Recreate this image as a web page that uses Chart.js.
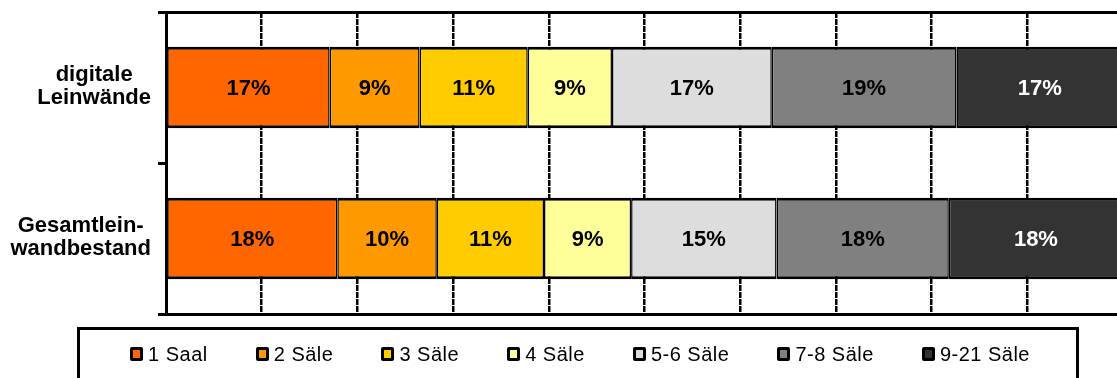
<!DOCTYPE html>
<html>
<head>
<meta charset="utf-8">
<script src="https://cdn.jsdelivr.net/npm/chart.js@4.4.0/dist/chart.umd.min.js"></script>
<style>
  html, body { margin: 0; padding: 0; background: #fff; overflow: hidden; }
  #wrap { position: relative; width: 1117px; height: 378px; overflow: hidden; }
  #chart { position: absolute; left: 0; top: 0; }
  #legend {
    position: absolute; left: 77px; top: 327px; width: 1002px; height: 80px;
    border: 3px solid #000; box-sizing: border-box;
    display: flex; align-items: flex-start; padding: 12px 0 0 50px;
    font: 20px "Liberation Sans", Arial, sans-serif; color: #000; letter-spacing: 0.5px;
  }
  .item { display: flex; align-items: center; height: 24px; line-height: 24px; margin-right: 48px; white-space: nowrap; }
  .box { width: 13px; height: 14px; border: 3px solid #000; box-sizing: border-box; border-radius: 2px; margin-right: 5px; }
</style>
</head>
<body>
<div id="wrap">
  <canvas id="chart" width="1130" height="330"></canvas>
  <div id="legend"></div>
</div>
<script>
// data (share of screens, %)
const categories = [["digitale", "Leinwände"], ["Gesamtlein-", "wandbestand"]];
const seriesNames = ["1 Saal", "2 Säle", "3 Säle", "4 Säle", "5-6 Säle", "7-8 Säle", "9-21 Säle"];
const seriesColors = ["#FF6600", "#FF9900", "#FFCC00", "#FFFF99", "#DDDDDD", "#808080", "#333333"];
const digitale = [17.1, 9.4, 11.3, 8.8, 16.7, 19.3, 17.4];
const gesamt = [17.9, 10.4, 11.2, 9.1, 15.2, 18.0, 18.2];

const FONT = '"Liberation Sans", Arial, sans-serif';

// percentage labels inside the bars
const barLabels = {
  id: "barLabels",
  afterDatasetsDraw(chart) {
    const ctx = chart.ctx;
    const last = chart.data.datasets.length - 1;
    ctx.save();
    ctx.font = "bold 22px " + FONT;
    ctx.textAlign = "center";
    ctx.textBaseline = "middle";
    chart.data.datasets.forEach((ds, i) => {
      chart.getDatasetMeta(i).data.forEach((bar, j) => {
        const p = bar.getCenterPoint();
        ctx.fillStyle = i === last ? "#fff" : "#000";
        ctx.fillText(Math.round(ds.data[j]) + "%", p.x, p.y + 1);
      });
    });
    ctx.restore();
  }
};

// category labels: each block right aligned, lines centred inside it
const catLabels = {
  id: "catLabels",
  afterDraw(chart) {
    const ctx = chart.ctx;
    const y = chart.scales.y;
    ctx.save();
    ctx.font = "bold 22px " + FONT;
    ctx.fillStyle = "#000";
    ctx.textAlign = "center";
    ctx.textBaseline = "alphabetic";
    categories.forEach((lines, i) => {
      const cy = y.getPixelForValue(i);
      const w = Math.max(...lines.map(l => ctx.measureText(l).width));
      const cx = y.right - 15 - w / 2;
      lines.forEach((l, k) => {
        ctx.fillText(l, cx, cy + 5 + (k - (lines.length - 1) / 2) * 23.3);
      });
    });
    ctx.restore();
  }
};

const datasets = seriesNames.map((name, i) => ({
  label: name,
  data: [digitale[i], gesamt[i]],
  backgroundColor: seriesColors[i],
  borderColor: "#000",
  borderWidth: { top: 3, bottom: 3, left: 1.5, right: 1.5 },
  borderSkipped: false,
  barPercentage: 0.54,
  categoryPercentage: 1
}));

new Chart(document.getElementById("chart"), {
  type: "bar",
  data: { labels: categories, datasets },
  options: {
    responsive: false,
    animation: false,
    indexAxis: "y",
    layout: { padding: { top: 12, right: 7, bottom: 16, left: 0 } },
    plugins: { legend: { display: false }, tooltip: { enabled: false } },
    scales: {
      x: {
        stacked: true, min: 0, max: 100,
        ticks: { display: false, stepSize: 10 },
        grid: { color: "#000", lineWidth: 2.5, drawTicks: false },
        border: { display: true, color: "#000", width: 3, dash: [6, 1] }
      },
      xTop: {
        position: "top", min: 0, max: 100,
        ticks: { display: false },
        grid: { display: false, drawTicks: false },
        border: { display: true, color: "#000", width: 3 }
      },
      y: {
        stacked: true,
        ticks: { display: false },
        grid: { offset: true, drawOnChartArea: false, color: "#000", lineWidth: 3, tickLength: 8 },
        border: { color: "#000", width: 3 },
        afterFit(scale) { scale.width = 166; }
      }
    }
  },
  plugins: [barLabels, catLabels]
});

// legend box under the chart
const legend = document.getElementById("legend");
seriesNames.forEach((name, i) => {
  const item = document.createElement("div");
  item.className = "item";
  item.innerHTML = `<span class="box" style="background:${seriesColors[i]}"></span><span>${name}</span>`;
  legend.appendChild(item);
});
</script>
</body>
</html>
